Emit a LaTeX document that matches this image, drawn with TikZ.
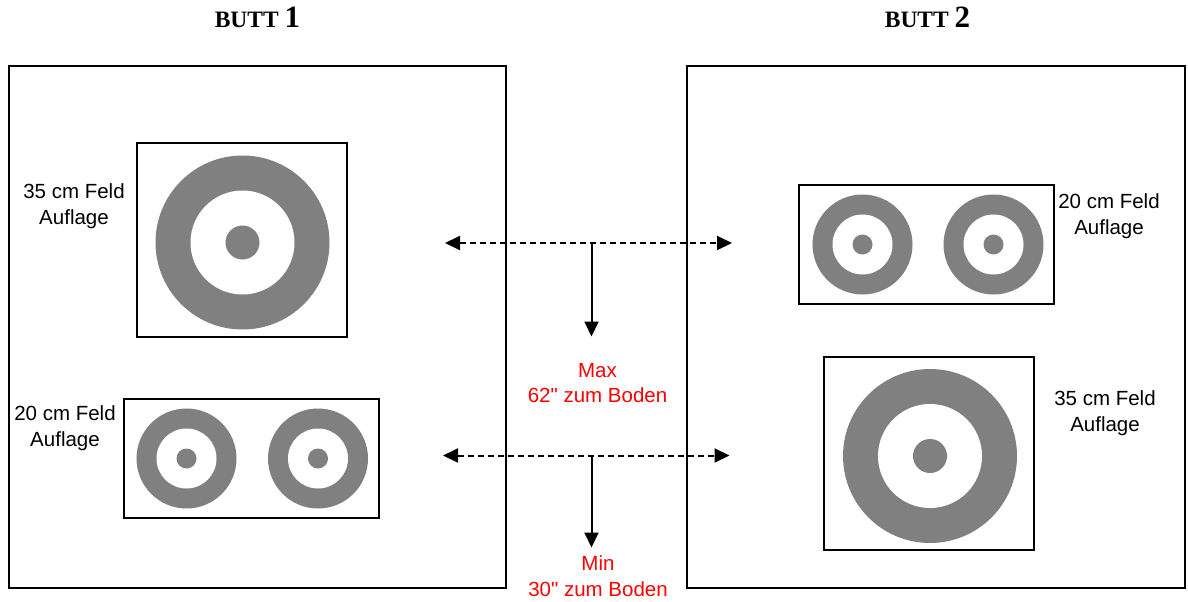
\documentclass[tikz,border=0pt]{standalone}
\usepackage{fontspec}
\setmainfont{Liberation Sans}
\newfontfamily\titlefont{Liberation Serif}
\usetikzlibrary{arrows.meta}
\definecolor{ringgray}{HTML}{808080}
\definecolor{hightred}{HTML}{FF0000}
\tikzset{
  feld/.style={align=center, inner sep=0pt, anchor=north, font=\fontsize{20.5}{25.5}\selectfont},
  hoehe/.style={feld, text=hightred},
  titel/.style={anchor=base, inner sep=0pt, font=\titlefont\bfseries},
  abstand/.style={line width=2pt, dash pattern=on 6pt off 4pt, {Triangle[length=15pt,width=14pt]}-{Triangle[length=15pt,width=14pt]}},
  boden/.style={line width=2pt, -{Triangle[length=15pt,width=14pt]}}
}

\begin{document}
\begin{tikzpicture}[x=1pt, y=-1pt, line width=2pt]
\useasboundingbox (0,0) rectangle (1188,602);
% butts
\draw (9,66) rectangle (506,588);
\draw (687,66) rectangle (1185,588);
\node[titel] (node_butt1) at (257.5,28) {\fontsize{23.5}{23.5}\selectfont BUTT \fontsize{31}{31}\selectfont 1};
\node[titel] (node_butt2) at (927.5,28) {\fontsize{23.5}{23.5}\selectfont BUTT \fontsize{31}{31}\selectfont 2};
% 35 cm faces
\draw (137,143) rectangle (346.5,337);
\draw (824,357) rectangle (1034,550);
\foreach \c in {(242.5,242.5),(930,456)} {
  \fill[ringgray] \c circle (87);
  \fill[white] \c circle (52);
  \fill[ringgray] \c circle (17);
}
% 20 cm faces
\draw (123.5,398.5) rectangle (379,518);
\draw (799,184.5) rectangle (1053.5,304);
\foreach \c in {(186.5,458.5),(318,458.5),(862.5,244.5),(993.5,244.5)} {
  \fill[ringgray] \c circle (50);
  \fill[white] \c circle (30);
  \fill[ringgray] \c circle (10);
}
\node[feld] (node_feld35a) at (74,183) {35 cm Feld\\Auflage};
\node[feld] (node_feld20a) at (65,405) {20 cm Feld\\Auflage};
\node[feld] (node_feld20b) at (1109,193) {20 cm Feld\\Auflage};
\node[feld] (node_feld35b) at (1105,390) {35 cm Feld\\Auflage};
% heights
\coordinate (max_l) at (445,243);
\coordinate (max_r) at (732,243);
\coordinate (max_m) at (591.5,243);
\coordinate (max_d) at (591.5,336.5);
\coordinate (min_l) at (443,455.5);
\coordinate (min_r) at (729.5,455.5);
\coordinate (min_m) at (591.5,455.5);
\coordinate (min_d) at (591.5,547.5);
\draw[abstand] (max_l) -- (max_r);
\draw[boden] (max_m) -- (max_d);
\draw[abstand] (min_l) -- (min_r);
\draw[boden] (min_m) -- (min_d);
\node[hoehe] (node_max) at (597.5,362) {Max\\62\textquotedbl{} zum Boden};
\node[hoehe] (node_min) at (598,555) {Min\\30\textquotedbl{} zum Boden};
\end{tikzpicture}
\end{document}
